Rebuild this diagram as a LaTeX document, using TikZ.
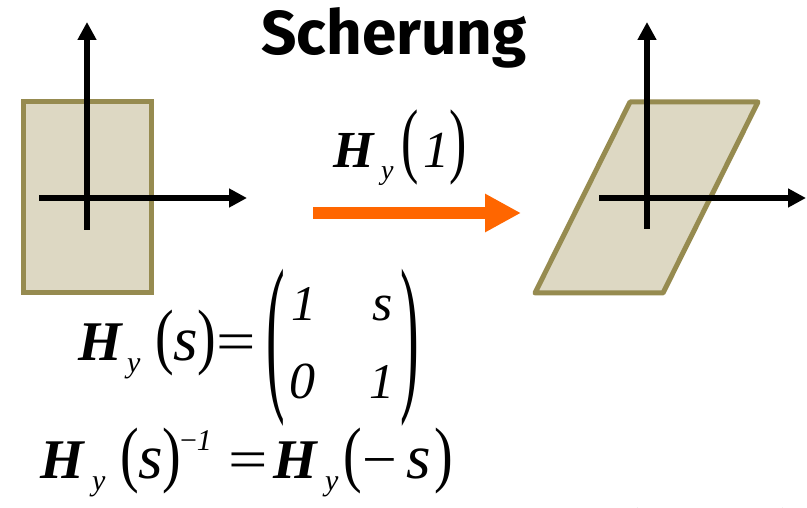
\documentclass[tikz,border=0pt]{standalone}
\usepackage{fontspec}
\usetikzlibrary{arrows.meta}
\newfontfamily\tnr{Liberation Serif}
\newfontfamily\titlefont{Fira Sans}
\definecolor{boxfill}{HTML}{DDD8C3}
\definecolor{boxline}{HTML}{968B50}
\definecolor{arroworange}{HTML}{FF6600}
\newcommand\fs[1]{\fontsize{#1}{#1}\selectfont}
\newcommand\bigparen[1]{\tnr\fs{56}\scalebox{1}[3.1]{#1}}
\newcommand\midparen[1]{\tnr\fs{56}\scalebox{1}[1.3]{#1}}
\begin{document}
\begin{tikzpicture}[x=1pt,y=-1pt,
  axis/.style={line width=6pt,-{Triangle[length=18pt,width=18pt]}},
  shapebox/.style={fill=boxfill,draw=boxline,line width=5pt},
  orangearrow/.style={line width=12pt,arroworange,-{Triangle[length=36pt,width=36pt]}},
  glyph/.style={anchor=base west,inner sep=0pt,outer sep=0pt}]
\useasboundingbox (0,0) rectangle (807,508);
\clip (0,0) rectangle (807,508);

% title
\node[anchor=base,inner sep=0pt] (title) at (394,55) {\titlefont\bfseries\fs{62}Scherung};

% source rectangle
\draw[shapebox] (23,102) rectangle (151,293);
\coordinate (lvb) at (87,230); \coordinate (lvt) at (87,22);
\coordinate (lhl) at (39,198); \coordinate (lhr) at (247,198);
\draw[axis] (lvb) -- (lvt);
\draw[axis] (lhl) -- (lhr);

% sheared parallelogram
\draw[shapebox,line join=round] (630,102) -- (758,102) -- (663,293) -- (535,293) -- cycle;
\coordinate (rvb) at (647,229); \coordinate (rvt) at (647,22);
\coordinate (rhl) at (599,198); \coordinate (rhr) at (806,198);
\draw[axis] (rvb) -- (rvt);
\draw[axis] (rhl) -- (rhr);

% transformation arrow
\coordinate (oa) at (313,213); \coordinate (ob) at (521,213);
\draw[orangearrow] (oa) -- (ob);

% label H_y(1)
\node[glyph] (lH) at (333,168) {\tnr\fs{52}\textbf{\textit{H}}};
\node[glyph] (ly) at (381,180) {\tnr\fs{28}\textit{y}};
\node[glyph] (lpl) at (401,168) {\tnr\fs{52}\scalebox{1}[1.6]{(}};
\node[glyph] (l1) at (423,168) {\tnr\fs{52}\textit{1}};
\node[glyph] (lpr) at (449,168) {\tnr\fs{52}\scalebox{1}[1.6]{)}};

% formula 1
\node[glyph] (aH) at (78,360) {\tnr\fs{56}\textbf{\textit{H}}};
\node[glyph] (ay) at (127,372) {\tnr\fs{30}\textit{y}};
\node[glyph] (apl) at (155,360) {\midparen{(}};
\node[glyph] (as) at (173,360) {\tnr\fs{63}\textit{s}};
\node[glyph] (apr) at (197,360) {\midparen{)}};
\node[glyph] (aeq) at (216,360) {\tnr\fs{56}\scalebox{1.25}[1]{=}};
\node[glyph] (mpl) at (266,389) {\bigparen{(}};
\node[glyph] (m11) at (291,320) {\tnr\fs{50}\textit{1}};
\node[glyph] (m12) at (372,320) {\tnr\fs{52}\textit{s}};
\node[glyph] (m21) at (289,398) {\tnr\fs{52}\textit{0}};
\node[glyph] (m22) at (369,398) {\tnr\fs{50}\textit{1}};
\node[glyph] (mpr) at (400,389) {\bigparen{)}};

% formula 2
\node[glyph] (bH) at (40,478) {\tnr\fs{56}\textbf{\textit{H}}};
\node[glyph] (by) at (92,490) {\tnr\fs{30}\textit{y}};
\node[glyph] (bpl) at (120,478) {\midparen{(}};
\node[glyph] (bs) at (138,478) {\tnr\fs{63}\textit{s}};
\node[glyph] (bpr) at (162,478) {\midparen{)}};
\node[glyph] (bexp) at (180,450) {\tnr\fs{30}−\textit{1}};
\node[glyph] (beq) at (228,478) {\tnr\fs{56}\scalebox{1.25}[1]{=}};
\node[glyph] (cH) at (273,478) {\tnr\fs{56}\textbf{\textit{H}}};
\node[glyph] (cy) at (325,490) {\tnr\fs{30}\textit{y}};
\node[glyph] (cpl) at (343,478) {\midparen{(}};
\node[glyph] (cm) at (362,478) {\tnr\fs{56}\scalebox{1.1}[1]{−}};
\node[glyph] (cs) at (406,478) {\tnr\fs{63}\textit{s}};
\node[glyph] (cpr) at (434,478) {\midparen{)}};

% cut-off matrix at the bottom right
\node[glyph] (npl) at (621,628) {\bigparen{(}};
\node[glyph] (npr) at (781,628) {\bigparen{)}};
\end{tikzpicture}
\end{document}
